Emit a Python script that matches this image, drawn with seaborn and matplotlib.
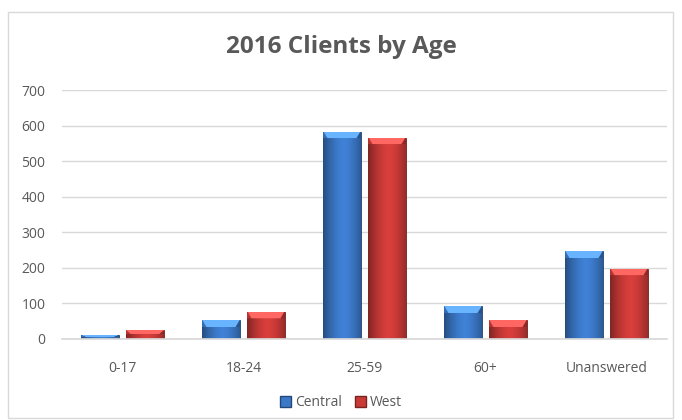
import numpy as np
import pandas as pd
import matplotlib
matplotlib.use("Agg")
import matplotlib.pyplot as plt
import seaborn as sns
from matplotlib.patches import Rectangle

categories = ["0-17", "18-24", "25-59", "60+", "Unanswered"]
central = [10, 53, 583, 92, 246]
west = [25, 77, 566, 53, 197]
series = ["Central", "West"]
yticks = [0, 100, 200, 300, 400, 500, 600, 700]
title = "2016 Clients by Age"

df = pd.DataFrame({
    "Age": categories * 2,
    "Clients": central + west,
    "Region": ["Central"] * len(categories) + ["West"] * len(categories),
})

sns.set_theme(style="white")
plt.rcParams["font.family"] = ["Open Sans", "DejaVu Sans"]

text_col = "#595959"
colors = {"Central": "#3b78c7", "West": "#c93a37"}

fig = plt.figure(figsize=(6.82, 4.2), dpi=100)
ax = fig.add_axes([62 / 682, 1 - 339 / 420, 605 / 682, 249 / 420])

sns.barplot(data=df, x="Age", y="Clients", hue="Region", order=categories,
            hue_order=series, palette=colors, width=0.75, gap=0.17,
            ax=ax, legend=False, saturation=1)

ax.set_xlim(-0.5, len(categories) - 0.5)
ax.set_ylim(0, 700)

# gradient shading on bars: darker at the sides, lighter bevel at the top
px_per_unit = 249 / 700
ncol = 64
xs = np.linspace(-1, 1, ncol)
side = 1 - 0.35 * np.abs(xs - 0.1) ** 1.6
for bar in ax.patches:
    fc = np.array(bar.get_facecolor()[:3])
    x0, y0 = bar.get_x(), bar.get_y()
    w, h = bar.get_width(), bar.get_height()
    hpx = max(int(round(h * px_per_unit)), 2)
    bevel = min(7, hpx // 2)
    base = np.clip(fc[None, None, :] * side[None, :, None] * 1.08, 0, 1)
    img = np.repeat(base, hpx, axis=0)
    # top bevel rows (row 0 = top): lighter, trapezoid shape
    for r in range(bevel):
        inset = int((r + 1) / max(bevel, 1) * ncol * 0.12)
        lite = np.clip(fc * 1.25 + 0.12, 0, 1)
        img[r, inset:ncol - inset, :] = lite
        img[r, :inset, :] = np.clip(fc * 0.9, 0, 1)
        img[r, ncol - inset:, :] = np.clip(fc * 0.7, 0, 1)
    im = ax.imshow(img, extent=[x0, x0 + w, y0, y0 + h], aspect="auto",
                   zorder=bar.get_zorder() + 0.1, interpolation="bilinear",
                   origin="upper")
    im.set_clip_path(bar)
    bar.set_edgecolor(tuple(fc * 0.55))
    bar.set_linewidth(0.6)

ax.set_xlim(-0.5, len(categories) - 0.5)
ax.set_ylim(0, 700)
ax.set_yticks(yticks)
ax.set_yticklabels([str(v) for v in yticks], fontsize=10, color=text_col)
ax.tick_params(axis="x", labelsize=10, labelcolor=text_col, pad=16, length=0)
ax.tick_params(axis="y", pad=12, length=0)
ax.set_xlabel("")
ax.set_ylabel("")
ax.yaxis.grid(True, color="#d9d9d9", linewidth=1)
ax.set_axisbelow(True)
for s in ["top", "right", "left"]:
    ax.spines[s].set_visible(False)
ax.spines["bottom"].set_color("#d9d9d9")

fig.text(0.5, 1 - 47 / 420, title, ha="center", va="center",
         fontsize=17.5, fontweight="bold", color=text_col)

handles = [Rectangle((0, 0), 1, 1, facecolor=colors[s],
                     edgecolor=tuple(np.array(matplotlib.colors.to_rgb(colors[s])) * 0.6))
           for s in series]
fig.legend(handles, series, loc="center", bbox_to_anchor=(0.5, 1 - 403 / 420),
           ncol=2, frameon=False, fontsize=10, handlelength=0.8, handleheight=0.8,
           handletextpad=0.3, columnspacing=0.9, labelcolor=text_col)

fig.add_artist(Rectangle((8 / 682, 1 - 418 / 420), 665 / 682, 406 / 420,
                         transform=fig.transFigure, fill=False,
                         edgecolor="#d9d9d9", linewidth=1))

fig.savefig("out.png", dpi=100)
